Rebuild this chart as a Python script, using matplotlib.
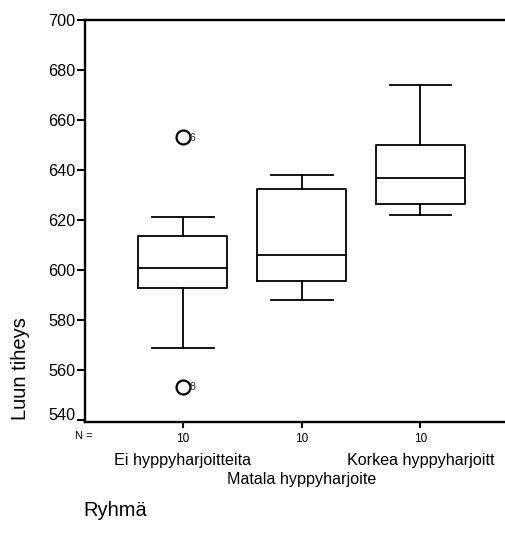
import matplotlib
matplotlib.use("Agg")
import matplotlib.pyplot as plt
import matplotlib.transforms as mtransforms
import numpy as np

plt.rcParams['font.family'] = ['Liberation Sans', 'DejaVu Sans']

# box summary values
groups = ['Ei hyppyharjoitteita', 'Matala hyppyharjoite', 'Korkea hyppyharjoitt']
n_counts = [10, 10, 10]
whislo = [569, 588, 622]
q1 = [593, 595.7, 626.3]
med = [601, 606, 636.7]
q3 = [613.5, 632.3, 650]
whishi = [621, 638, 674]
outliers = [[653, 553.5], [], []]
outlier_ids = [['6', '8'], [], []]

yticks = [540, 560, 580, 600, 620, 640, 660, 680, 700]

W, H = 506, 548
fig = plt.figure(figsize=(W / 100, H / 100), dpi=100)
ax = fig.add_axes([85 / W, 1 - 421.7 / H, 1 - 85 / W, (421.7 - 19.5) / H])

stats = []
for i in range(len(groups)):
    stats.append(dict(whislo=whislo[i], q1=q1[i], med=med[i], q3=q3[i],
                      whishi=whishi[i], fliers=[]))
pos = np.arange(1, len(groups) + 1)
lw = 1.3
ax.bxp(stats, positions=pos, widths=0.75, showfliers=False,
       boxprops=dict(color='black', linewidth=lw),
       medianprops=dict(color='black', linewidth=lw),
       whiskerprops=dict(color='black', linewidth=lw),
       capprops=dict(color='black', linewidth=lw), capwidths=0.52)

for i, (vals, ids) in enumerate(zip(outliers, outlier_ids)):
    for v, t in zip(vals, ids):
        ax.plot(pos[i], v, marker='o', ms=10, mfc='none', mec='black', mew=1.6)
        ax.annotate(t, (pos[i], v), xytext=(4.5, -0.5), textcoords='offset points',
                    fontsize=7.5, va='center', ha='left', color='#333333')

ax.set_xlim(0.177, 3.72)
ax.set_ylim(539.5, 700)
ax.set_yticks(yticks)
ax.set_yticklabels([str(t) for t in yticks], fontsize=11.7)
ax.set_xticks(pos)
ax.set_xticklabels([str(n) for n in n_counts], fontsize=8.5)
ax.tick_params(axis='y', length=6, width=1.5, pad=1)
ax.tick_params(axis='x', length=4, width=1.5, pad=4)
for s in ['left', 'bottom', 'top']:
    ax.spines[s].set_linewidth(1.7)
ax.spines['right'].set_visible(False)

# the lowest label sits a little higher in the original
lbl = ax.get_yticklabels()[0]
lbl.set_transform(lbl.get_transform() +
                  mtransforms.ScaledTranslation(0, 6 / 100, fig.dpi_scale_trans))

# group names staggered under the axis
for i, g in enumerate(groups):
    off = -0.097 if i != 1 else -0.143
    ax.annotate(g, (pos[i], off), xycoords=('data', 'axes fraction'),
                ha='center', va='center', fontsize=11.6)

fig.text(84 / W, 1 - 436 / H, 'N =', fontsize=8, ha='center', va='center')
fig.text(20.5 / W, 1 - 369 / H, 'Luun tiheys', rotation=90, fontsize=14.5,
         ha='center', va='center')
fig.text(83 / W, 1 - 510 / H, 'Ryhmä', fontsize=14.5, ha='left', va='center')

fig.savefig('out.png', dpi=100)
